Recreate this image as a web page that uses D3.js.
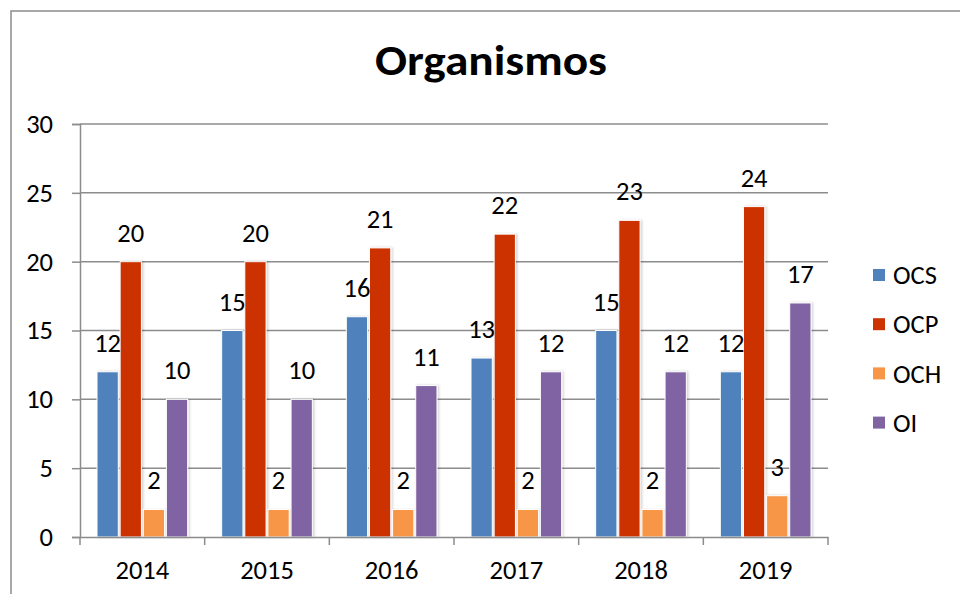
<!DOCTYPE html>
<html>
<head>
<meta charset="utf-8">
<script src="https://cdn.jsdelivr.net/npm/d3@7"></script>
<style>
  body { margin: 0; background: #fff; }
  text { font-family: Carlito, Lato, "Open Sans", sans-serif; fill: #000; }
</style>
</head>
<body>
<div id="chart"></div>
<script>
const years = ["2014", "2015", "2016", "2017", "2018", "2019"];
const seriesNames = ["OCS", "OCP", "OCH", "OI"];
const ocs = [12, 15, 16, 13, 15, 12];
const ocp = [20, 20, 21, 22, 23, 24];
const och = [2, 2, 2, 2, 2, 3];
const oi = [10, 10, 11, 12, 12, 17];
const yTicks = [0, 5, 10, 15, 20, 25, 30];
const colors = ["#4f81bd", "#cc3300", "#f79646", "#8064a2"];

const seriesValues = [ocs, ocp, och, oi];
const data = years.map((y, i) => ({
  year: y,
  values: seriesNames.map((s, j) => ({ name: s, value: seriesValues[j][i], color: colors[j] })),
}));

const W = 960, H = 594;
const margin = { top: 124, right: 132, bottom: 57, left: 80 };
const width = W - margin.left - margin.right;
const height = H - margin.top - margin.bottom;
const fontSize = "26.5px";

const svg = d3.select("#chart").append("svg").attr("width", W).attr("height", H);

const defs = svg.append("defs");
const shadow = defs.append("filter").attr("id", "shadow")
  .attr("x", "-20%").attr("y", "-5%").attr("width", "150%").attr("height", "115%");
shadow.append("feDropShadow").attr("dx", 1.5).attr("dy", 0).attr("stdDeviation", 1.2)
  .attr("flood-color", "#000").attr("flood-opacity", 0.18);

// outer chart frame (runs off the right and bottom edges)
svg.append("rect")
  .attr("x", 11).attr("y", 11).attr("width", 1000).attr("height", 700)
  .attr("fill", "none").attr("stroke", "#8c8c8c").attr("stroke-width", 1.5);

svg.append("text")
  .attr("x", 491).attr("y", 75)
  .attr("text-anchor", "middle")
  .attr("textLength", 232).attr("lengthAdjust", "spacingAndGlyphs")
  .style("font-size", "43px").style("font-weight", "bold")
  .text("Organismos");

const g = svg.append("g").attr("transform", `translate(${margin.left},${margin.top})`);

const x0 = d3.scaleBand().domain(years).range([0, width]).paddingInner(0).paddingOuter(0);
const x1 = d3.scaleBand().domain(seriesNames).range([17, x0.bandwidth() - 17]).paddingInner(0.08);
const y = d3.scaleLinear().domain([0, 30]).range([height, 0]);

// gridlines
g.append("g").selectAll("line").data(yTicks.filter((t) => t > 0)).join("line")
  .attr("x1", 0).attr("x2", width)
  .attr("y1", (d) => y(d)).attr("y2", (d) => y(d))
  .attr("stroke", "#8c8c8c").attr("stroke-width", 1.5);

// y axis
const yAxis = g.append("g")
  .call(d3.axisLeft(y).tickValues(yTicks).tickSize(8).tickPadding(19));
yAxis.select(".domain").attr("stroke", "#8c8c8c").attr("stroke-width", 1.5);
yAxis.selectAll(".tick line").attr("stroke", "#8c8c8c").attr("stroke-width", 1.5);
yAxis.selectAll(".tick text").style("font-size", fontSize).attr("font-family", null).attr("fill", "#000");

// bars
const groups = g.append("g").selectAll("g").data(data).join("g")
  .attr("transform", (d) => `translate(${x0(d.year)},0)`);

groups.selectAll("rect").data((d) => d.values).join("rect")
  .attr("x", (d) => x1(d.name))
  .attr("y", (d) => y(d.value))
  .attr("width", x1.bandwidth())
  .attr("height", (d) => y(0) - y(d.value))
  .attr("fill", (d) => d.color)
  .attr("stroke", "#fff").attr("stroke-width", 1)
  .attr("filter", "url(#shadow)");

groups.selectAll("text").data((d) => d.values).join("text")
  .attr("x", (d) => x1(d.name) + x1.bandwidth() / 2)
  .attr("y", (d) => y(d.value) - 20)
  .attr("text-anchor", "middle")
  .style("font-size", fontSize)
  .text((d) => d.value);

// x axis
const xAxis = g.append("g").attr("transform", `translate(0,${height})`)
  .call(d3.axisBottom(x0).tickSize(0).tickPadding(23));
xAxis.select(".domain").attr("stroke", "#8c8c8c").attr("stroke-width", 1.5);
xAxis.selectAll(".tick text").style("font-size", fontSize).attr("font-family", null).attr("fill", "#000");
xAxis.selectAll(".boundary").data(d3.range(years.length + 1)).join("line")
  .attr("class", "boundary")
  .attr("x1", (d) => d * x0.bandwidth()).attr("x2", (d) => d * x0.bandwidth())
  .attr("y1", 0).attr("y2", 8)
  .attr("stroke", "#8c8c8c").attr("stroke-width", 1.5);

// legend
const legend = svg.append("g").selectAll("g").data(seriesNames).join("g")
  .attr("transform", (d, i) => `translate(873,${275 + i * 49.2})`);
legend.append("rect")
  .attr("x", 0).attr("y", -6).attr("width", 12).attr("height", 12)
  .attr("fill", (d, i) => colors[i]);
legend.append("text")
  .attr("x", 20).attr("dy", "0.35em")
  .style("font-size", fontSize)
  .text((d) => d);
</script>
</body>
</html>
